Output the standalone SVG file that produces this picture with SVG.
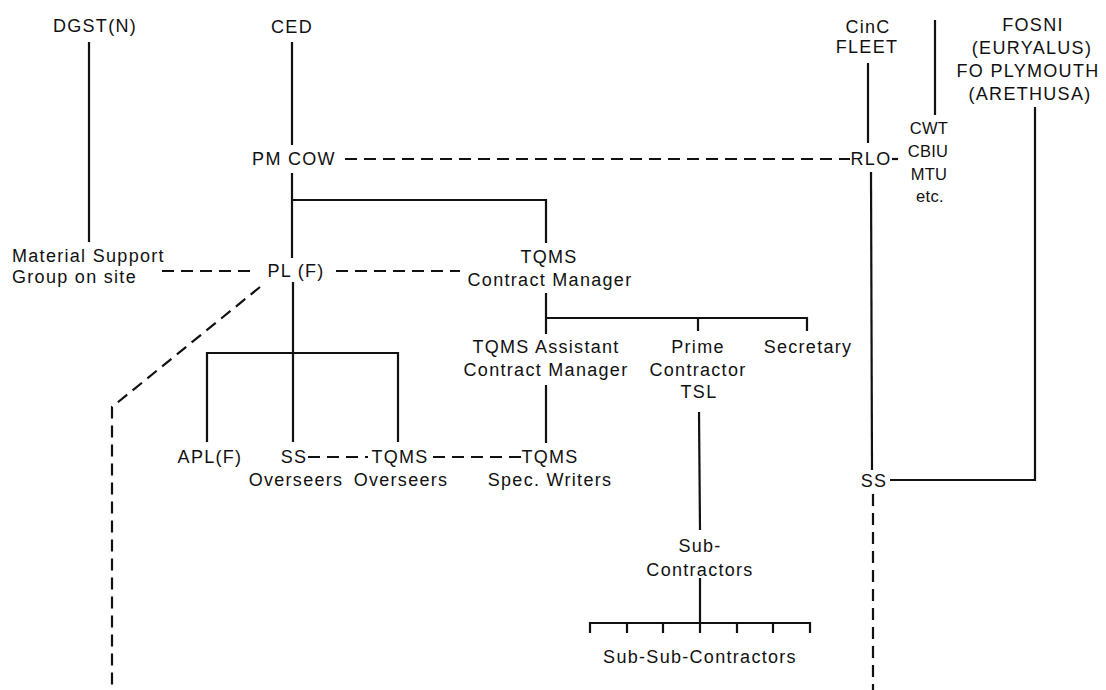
<svg xmlns="http://www.w3.org/2000/svg" width="1106" height="690" viewBox="0 0 1106 690">
<style>
text{font-family:"Liberation Sans",Arial,sans-serif;font-size:18px;letter-spacing:1.3px;fill:#111;text-anchor:middle}
.l{text-anchor:start}
.n{letter-spacing:0.3px;font-size:16.5px}
.s{stroke:#111;stroke-width:2.2;fill:none}
.d{stroke:#111;stroke-width:2.2;fill:none;stroke-dasharray:12 7}
</style>
<rect width="1106" height="690" fill="#fff"/>
<g id="connectors">
<line class="s" x1="89" y1="42" x2="89" y2="242"/>
<line class="s" x1="292" y1="42" x2="292" y2="145"/>
<line class="d" x1="345" y1="159" x2="850" y2="159"/>
<line class="s" x1="892" y1="159" x2="898" y2="159"/>
<polyline class="s" points="292,173 292,258"/>
<polyline class="s" points="292,200 546,200 546,243"/>
<line class="s" x1="868" y1="63" x2="868" y2="143"/>
<line class="s" x1="935" y1="20" x2="935" y2="115"/>
<line class="s" x1="871" y1="172" x2="872" y2="470"/>
<polyline class="s" points="1035,107 1035,480 890,480"/>
<line class="d" x1="873" y1="494" x2="873" y2="690"/>
<line class="d" x1="162" y1="271" x2="252" y2="271"/>
<line class="d" x1="336" y1="271" x2="460" y2="271"/>
<polyline class="d" points="260,287 112,407 112,690"/>
<line class="s" x1="293" y1="282" x2="293" y2="442"/>
<polyline class="s" points="207,442 207,353 398,353 398,442"/>
<line class="s" x1="546" y1="293" x2="546" y2="334"/>
<polyline class="s" points="546,318 807,318 807,331"/>
<line class="s" x1="698" y1="318" x2="698" y2="331"/>
<line class="s" x1="546" y1="385" x2="546" y2="443"/>
<line class="d" x1="308" y1="457" x2="368" y2="457"/>
<line class="d" x1="433" y1="457" x2="522" y2="457"/>
<line class="s" x1="699" y1="412" x2="700" y2="530"/>
<line class="s" x1="700" y1="578" x2="700" y2="623"/>
<polyline class="s" points="590,633 590,623 810,623 810,633"/>
<path class="s" d="M627,623V633M663,623V633M700,623V633M737,623V633M773,623V633"/>
</g>
<g id="dgst"><text x="95" y="32">DGST(N)</text></g>
<g id="ced"><text x="292" y="33">CED</text></g>
<g id="pmcow"><text x="294" y="165">PM COW</text></g>
<g id="cinc"><text x="868" y="33">CinC</text><text x="867" y="53">FLEET</text></g>
<g id="cwt"><text class="n" x="929" y="134">CWT</text><text class="n" x="928" y="157">CBIU</text><text class="n" x="929" y="180">MTU</text><text class="n" x="930" y="202">etc.</text></g>
<g id="fosni"><text x="1033" y="31">FOSNI</text><text x="1032" y="54">(EURYALUS)</text><text x="1028" y="77">FO PLYMOUTH</text><text x="1030" y="100">(ARETHUSA)</text></g>
<g id="rlo"><text x="871" y="165">RLO</text></g>
<g id="msg"><text class="l" x="12" y="262">Material Support</text><text class="l" x="12" y="283">Group on site</text></g>
<g id="plf"><text x="296" y="277">PL (F)</text></g>
<g id="tqmscm"><text x="549" y="263">TQMS</text><text x="550" y="286">Contract Manager</text></g>
<g id="tqmsacm"><text x="546" y="353">TQMS Assistant</text><text x="546" y="376">Contract Manager</text></g>
<g id="prime"><text x="698" y="353">Prime</text><text x="698" y="376">Contractor</text><text x="699" y="398">TSL</text></g>
<g id="secretary"><text x="808" y="353">Secretary</text></g>
<g id="aplf"><text x="210" y="463">APL(F)</text></g>
<g id="ssov"><text x="294" y="463">SS</text><text x="296" y="486">Overseers</text></g>
<g id="tqmsov"><text x="400" y="463">TQMS</text><text x="401" y="486">Overseers</text></g>
<g id="tqmssw"><text x="550" y="463">TQMS</text><text x="550" y="486">Spec. Writers</text></g>
<g id="ss"><text x="874" y="487">SS</text></g>
<g id="sub"><text x="700" y="552">Sub-</text><text x="700" y="576">Contractors</text></g>
<g id="subsub"><text x="700" y="663">Sub-Sub-Contractors</text></g>
</svg>
